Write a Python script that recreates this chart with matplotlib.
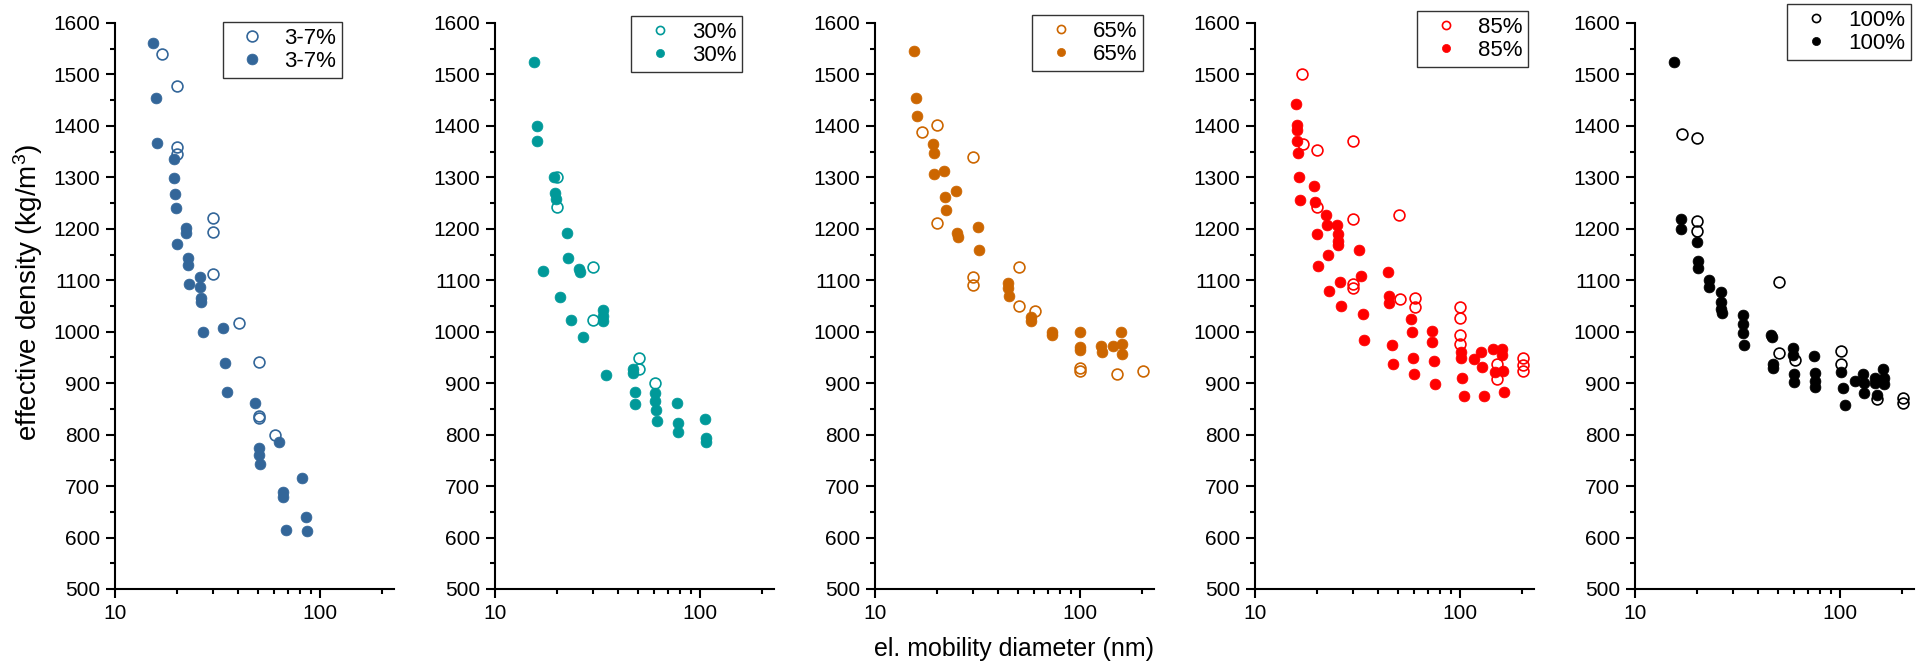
import matplotlib
matplotlib.use("Agg")
import matplotlib.pyplot as plt
from matplotlib.ticker import LogLocator, NullFormatter, FixedLocator, MultipleLocator

plt.rcParams['font.family'] = ['Liberation Sans', 'DejaVu Sans']
plt.rcParams['mathtext.default'] = 'regular'

# effective density vs. mobility diameter, one panel per humidity level
labels = ['3-7%', '30%', '65%', '85%', '100%']
colors = ['#336699', '#009999', '#cc6600', '#ff0000', '#000000']

# 3-7 %
d37_open = [17.0, 20.0, 20.0, 20.0, 30.2, 30.2, 30.2, 40.3, 50.4, 50.4, 50.4, 60.1]
rho37_open = [1540, 1478, 1359, 1345, 1221, 1194, 1112, 1016, 941, 836, 832, 799]
d37_fill = [15.4, 15.8, 16.1, 19.3, 19.4, 19.7, 19.8, 22.3, 22.3, 20.1, 22.7, 22.8,
            25.9, 23.0, 26.0, 26.2, 26.2, 26.9, 33.6, 34.5, 35.3, 48.4, 50.4, 50.4,
            50.9, 63.1, 81.7, 65.8, 65.9, 85.1, 68.2, 86.6]
rho37_fill = [1562, 1454, 1366, 1336, 1298, 1267, 1241, 1202, 1192, 1171, 1144, 1130,
              1107, 1092, 1087, 1065, 1057, 1000, 1008, 940, 883, 861, 774, 760,
              742, 785, 715, 689, 678, 640, 615, 612]

# 30 %
d30_open = [20.0, 20.0, 30.1, 30.1, 50.4, 50.4, 60.4]
rho30_open = [1300, 1242, 1126, 1022, 949, 928, 901]
d30_fill = [15.5, 16.0, 16.1, 19.4, 19.7, 19.8, 22.4, 22.7, 17.2, 25.8, 25.9, 20.7,
            33.5, 33.6, 33.6, 23.6, 27.0, 34.8, 47.1, 47.1, 48.0, 48.3, 60.6, 60.7,
            61.1, 61.6, 77.2, 77.9, 78.6, 106.2, 107.0, 107.0]
rho30_fill = [1524, 1399, 1371, 1300, 1269, 1258, 1192, 1144, 1118, 1121, 1116, 1067,
              1042, 1031, 1021, 1022, 989, 915, 927, 919, 883, 859, 880, 866,
              847, 826, 861, 822, 806, 830, 793, 785]

# 65 %
d65_open = [16.9, 20.0, 20.0, 30.1, 30.2, 30.2, 50.4, 50.6, 60.6, 100.5, 100.5, 151.5, 202.9]
rho65_open = [1388, 1402, 1211, 1340, 1107, 1090, 1126, 1050, 1040, 930, 923, 917, 924]
d65_fill = [15.5, 15.8, 16.0, 19.2, 19.3, 19.4, 21.8, 24.8, 22.0, 22.2, 25.2, 25.3,
            31.8, 32.2, 44.7, 44.7, 44.9, 57.5, 57.5, 73.3, 73.5, 99.6, 100.3, 100.5,
            127.0, 127.6, 144.9, 159.0, 160.0, 160.6]
rho65_fill = [1545, 1454, 1419, 1365, 1347, 1306, 1312, 1274, 1262, 1236, 1192, 1185,
              1203, 1158, 1095, 1085, 1069, 1028, 1020, 999, 993, 999, 970, 965,
              972, 960, 973, 999, 976, 956]

# 85 %
d85_open = [17.0, 17.1, 20.0, 20.0, 30.2, 30.2, 30.2, 30.2, 50.6, 50.8, 60.6, 60.6,
            100.5, 100.5, 100.5, 100.5, 151.5, 151.5, 202.9, 203.0, 203.0]
rho85_open = [1501, 1365, 1354, 1243, 1371, 1220, 1092, 1085, 1226, 1063, 1066, 1049,
              1048, 1026, 994, 976, 938, 909, 949, 935, 924]
d85_fill = [15.8, 16.0, 16.0, 16.1, 16.2, 16.4, 16.6, 19.5, 19.7, 20.0, 20.4,
            22.2, 22.4, 22.7, 23.1, 25.2, 25.3, 25.4, 25.4, 26.0, 26.3,
            32.2, 32.8, 33.5, 34.0, 44.4, 44.9, 45.0, 46.4, 46.9,
            57.5, 58.1, 59.0, 59.6, 73.3, 73.5, 74.6, 75.7,
            101.0, 101.0, 102.6, 104.2, 117.5, 127.0, 128.3, 131.4,
            145.0, 148.2, 160.0, 161.0, 162.0, 164.5]
rho85_fill = [1442, 1401, 1392, 1371, 1347, 1301, 1256, 1284, 1253, 1189, 1127,
              1226, 1208, 1150, 1079, 1208, 1189, 1176, 1169, 1096, 1050,
              1158, 1108, 1034, 983, 1116, 1070, 1055, 975, 938,
              1024, 1000, 949, 917, 1001, 981, 944, 898,
              961, 949, 910, 876, 947, 961, 931, 876,
              966, 921, 966, 955, 924, 882]

# 100 %
d100_open = [17.0, 20.0, 20.0, 20.0, 50.4, 50.4, 60.7, 101.0, 101.0, 151.5, 203.0, 203.0]
rho100_open = [1385, 1376, 1215, 1196, 1096, 958, 945, 963, 938, 870, 872, 862]
d100_fill = [15.5, 16.8, 16.8, 20.1, 20.4, 20.4, 23.0, 23.1, 26.2, 26.3, 26.4, 26.5,
             33.6, 33.6, 33.7, 34.0, 46.2, 46.4, 46.9, 47.1, 58.8, 58.8, 59.6, 59.8,
             74.4, 75.5, 76.0, 76.0, 101.8, 103.3, 105.4, 117.9, 130.0, 130.5, 131.4,
             147.8, 148.2, 151.5, 162.2, 164.5, 164.5]
rho100_fill = [1524, 1220, 1199, 1174, 1137, 1123, 1101, 1087, 1078, 1057, 1045, 1037,
               1033, 1015, 998, 975, 994, 990, 937, 930, 969, 955, 917, 902,
               953, 919, 904, 893, 922, 890, 858, 904, 918, 901, 880,
               911, 901, 878, 927, 910, 899]

series = [
    (d37_open, rho37_open, d37_fill, rho37_fill),
    (d30_open, rho30_open, d30_fill, rho30_fill),
    (d65_open, rho65_open, d65_fill, rho65_fill),
    (d85_open, rho85_open, d85_fill, rho85_fill),
    (d100_open, rho100_open, d100_fill, rho100_fill),
]

W, H = 1919, 666
fig = plt.figure(figsize=(W / 100, H / 100), dpi=100)

# pixel layout of the panels
ax_left0, ax_step, ax_w = 115, 380, 279
ax_top, ax_bot = 23, 589
leg_pos = [(223, 22), (631, 16), (1032, 15), (1417, 11), (1787, 4)]
leg_scale = [1.0, 0.75, 0.75, 0.75, 0.75]

axes = []
for i, (dop, rop, dfi, rfi) in enumerate(series):
    left = ax_left0 + i * ax_step
    ax = fig.add_axes([left / W, 1 - ax_bot / H, ax_w / W, (ax_bot - ax_top) / H])
    c = colors[i]
    h_open, = ax.plot(dop, rop, 'o', ms=7.8, mfc='none', mec=c, mew=1.2,
                      label=labels[i], clip_on=False)
    h_fill, = ax.plot(dfi, rfi, 'o', ms=7.8, mfc=c, mec=c, mew=0.5,
                      label=labels[i], clip_on=False)

    ax.set_xscale('log')
    ax.set_xlim(10, 230)
    ax.set_ylim(500, 1600)
    ax.xaxis.set_major_locator(FixedLocator([10, 100]))
    ax.xaxis.set_minor_locator(LogLocator(base=10, subs=range(2, 10), numticks=10))
    ax.xaxis.set_minor_formatter(NullFormatter())
    ax.set_xticklabels(['10', '100'])
    ax.yaxis.set_major_locator(MultipleLocator(100))
    ax.yaxis.set_minor_locator(MultipleLocator(50))

    for s in ['top', 'right']:
        ax.spines[s].set_visible(False)
    for s in ['left', 'bottom']:
        ax.spines[s].set_linewidth(1.5)
    ax.tick_params(which='major', direction='out', length=6.5, width=1.5,
                   labelsize=15, pad=4)
    ax.tick_params(which='minor', direction='out', length=3.5, width=1.5)

    lx, ly = leg_pos[i]
    leg = ax.legend(handles=[h_open, h_fill], loc='upper left',
                    bbox_to_anchor=(lx / W, 1 - ly / H), bbox_transform=fig.transFigure,
                    fontsize=16, frameon=True, fancybox=False, framealpha=1,
                    edgecolor='#333333', borderpad=0.25, labelspacing=0.12,
                    handlelength=2.1, handletextpad=0.4, borderaxespad=0,
                    markerscale=leg_scale[i])
    leg.get_frame().set_linewidth(1.0)
    axes.append(ax)

fig.text(28 / W, 1 - 292 / H, 'effective density (kg/m$^3$)', rotation=90,
         ha='center', va='center', fontsize=20)
fig.text(1014 / W, 1 - 649 / H, 'el. mobility diameter (nm)',
         ha='center', va='center', fontsize=18)

fig.savefig('out.png', dpi=100)
